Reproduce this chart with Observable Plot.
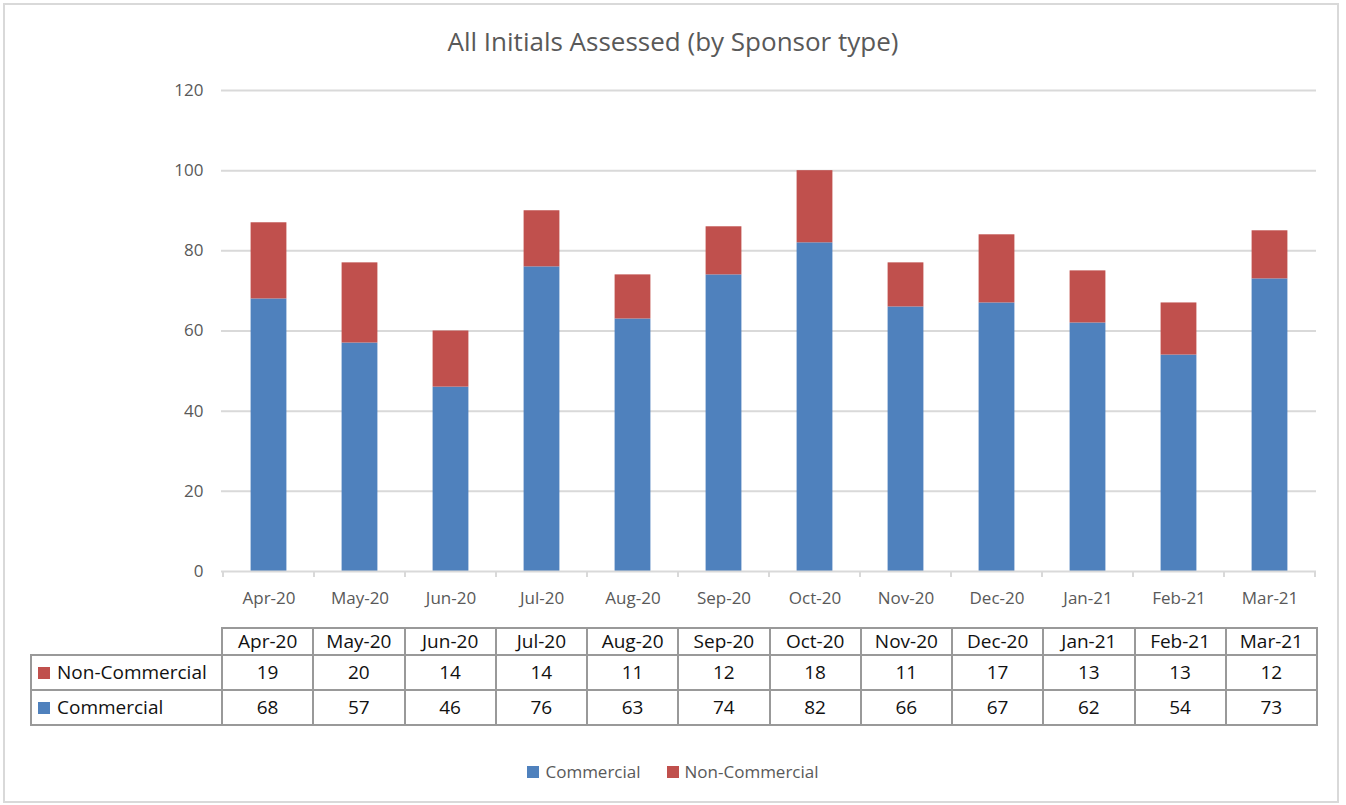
<!DOCTYPE html>
<html>
<head>
<meta charset="utf-8">
<script src="https://cdn.jsdelivr.net/npm/d3@7"></script>
<script src="https://cdn.jsdelivr.net/npm/@observablehq/plot@0.6"></script>
<style>
  html, body { margin: 0; padding: 0; background: #fff; }
  #wrap { position: relative; width: 1346px; height: 805px; overflow: hidden; font-family: "Open Sans", sans-serif; }
  #frame { position: absolute; left: 3px; top: 3px; width: 1332px; height: 796px; border: 2px solid #d9d9d9; }
  #title { position: absolute; left: 0; width: 1346px; top: 23px; text-align: center; font-size: 26px; color: #595959; }
  #chart { position: absolute; left: 0; top: 70px; }
  #tbl { position: absolute; left: 30px; top: 627px; border-collapse: collapse; font-size: 19px; color: #111; }
  #tbl td { border: 2px solid #999; text-align: center; padding: 0; line-height: 1; }
  #tbl tr.hdr td { height: 25px; }
  #tbl tr.row td { height: 33px; }
  #tbl td.lab { text-align: left; width: 189px; white-space: nowrap; }
  #tbl td.blank { border: none; }
  .key { display: inline-block; width: 12px; height: 12px; margin: 0 7px 0 6px; vertical-align: 0px; }
  #legend { position: absolute; top: 760px; left: 0; width: 1346px; text-align: center; font-size: 17px; color: #595959; }
  #legend span.item { margin: 0 13px; }
  #legend .key { margin: 0 6px 0 0; vertical-align: 0px; }
</style>
</head>
<body>
<div id="wrap">
  <div id="frame"></div>
  <div id="title"></div>
  <div id="chart"></div>
  <table id="tbl"></table>
  <div id="legend"></div>
</div>
<script>
const titleText = "All Initials Assessed (by Sponsor type)";
const months = ["Apr-20","May-20","Jun-20","Jul-20","Aug-20","Sep-20","Oct-20","Nov-20","Dec-20","Jan-21","Feb-21","Mar-21"];
const commercial = [68,57,46,76,63,74,82,66,67,62,54,73];
const nonCommercial = [19,20,14,14,11,12,18,11,17,13,13,12];
const seriesNames = ["Commercial","Non-Commercial"];
const seriesColors = ["#4F81BD","#C0504D"];
const yTicks = [0,20,40,60,80,100,120];

document.getElementById("title").textContent = titleText;

const rows = [];
months.forEach((m, i) => {
  rows.push({month: m, series: seriesNames[0], value: commercial[i]});
  rows.push({month: m, series: seriesNames[1], value: nonCommercial[i]});
});

// band-boundary tick marks under the x axis, using the library's x scale
function boundaryTicks(index, scales, values, dimensions) {
  const x = scales.x;
  const bw = x.bandwidth();
  const step = x.step();
  const y0 = dimensions.height - dimensions.marginBottom;
  const g = d3.create("svg:g").attr("stroke", "#d9d9d9").attr("stroke-width", 2);
  const doms = x.domain();
  const xs = doms.map(d => x(d) - (step - bw) / 2);
  xs.push(x(doms[doms.length - 1]) + bw + (step - bw) / 2);
  xs.forEach(v => g.append("line").attr("x1", v).attr("x2", v).attr("y1", y0).attr("y2", y0 + 6));
  return g.node();
}

const chart = Plot.plot({
  width: 1346,
  height: 540,
  marginLeft: 221,
  marginRight: 30,
  marginTop: 20,
  marginBottom: 39,
  style: { fontFamily: "Open Sans, sans-serif", fontSize: "17px", color: "#595959", background: "transparent" },
  x: { domain: months, padding: 0, label: null },
  y: { domain: [0, 120], ticks: yTicks, label: null },
  color: { domain: seriesNames, range: seriesColors },
  marks: [
    Plot.ruleY(yTicks.filter(t => t > 0), { stroke: "#d9d9d9", strokeWidth: 2 }),
    Plot.barY(rows, Plot.stackY({ x: "month", y: "value", fill: "series", inset: 0, insetLeft: 27.6, insetRight: 27.6, order: seriesNames })),
    Plot.ruleY([0], { stroke: "#d9d9d9", strokeWidth: 2 }),
    boundaryTicks,
    Plot.axisY({ ticks: yTicks, tickSize: 0, tickPadding: 18, fill: "#595959", fontSize: 17 }),
    Plot.axisX({ tickSize: 0, tickPadding: 20, fill: "#595959", fontSize: 17 })
  ]
});
document.getElementById("chart").appendChild(chart);

// data table below the chart, built from the same arrays
const tbl = d3.select("#tbl");
const hdr = tbl.append("tr").attr("class", "hdr");
hdr.append("td").attr("class", "blank lab");
months.forEach(m => hdr.append("td").style("width", "89.25px").text(m));
const tableSeries = [
  { name: seriesNames[1], color: seriesColors[1], vals: nonCommercial },
  { name: seriesNames[0], color: seriesColors[0], vals: commercial }
];
tableSeries.forEach(s => {
  const tr = tbl.append("tr").attr("class", "row");
  const lab = tr.append("td").attr("class", "lab");
  lab.append("span").attr("class", "key").style("background", s.color);
  lab.append("span").text(s.name);
  s.vals.forEach(v => tr.append("td").text(v));
});

// legend
const leg = d3.select("#legend");
seriesNames.forEach((n, i) => {
  const it = leg.append("span").attr("class", "item");
  it.append("span").attr("class", "key").style("background", seriesColors[i]);
  it.append("span").text(n);
});
</script>
</body>
</html>
